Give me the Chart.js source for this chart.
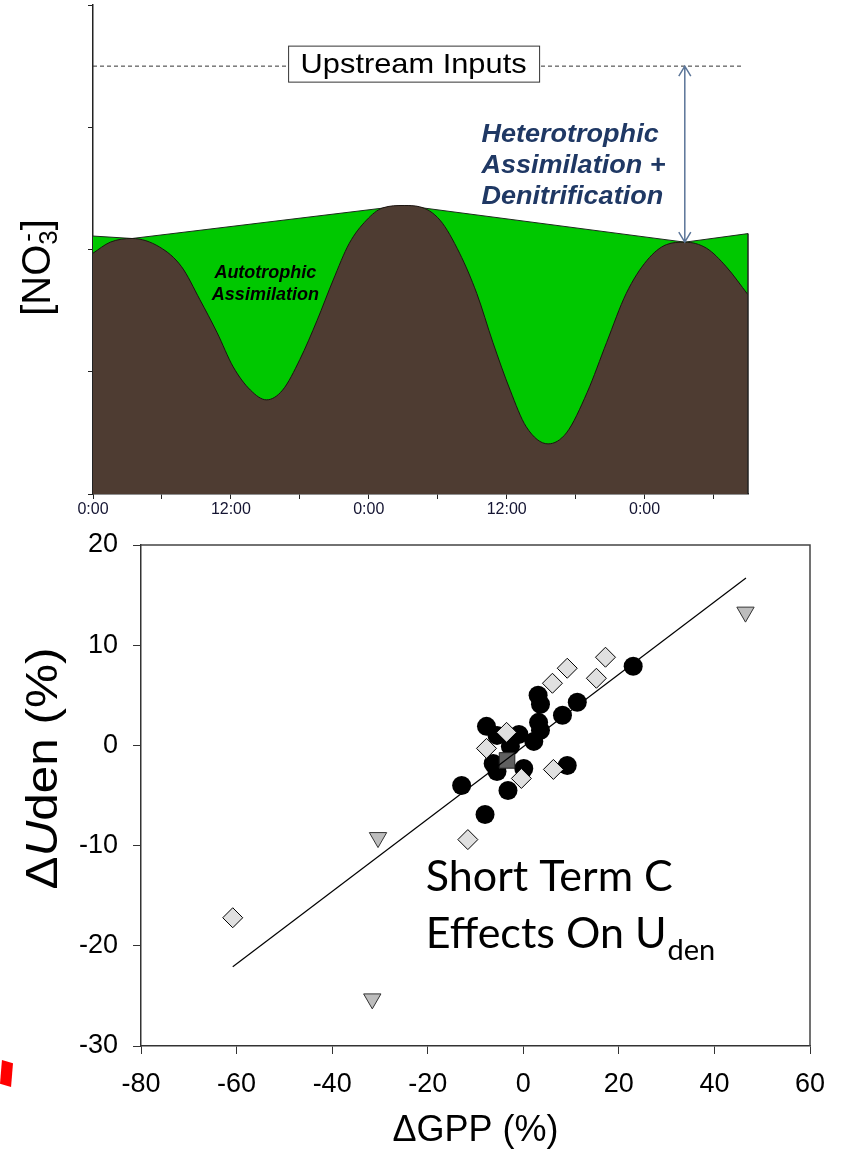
<!DOCTYPE html>
<html lang="en">
<head>
  <meta charset="UTF-8" />
  <title>Diel nitrate signal and Uden vs GPP</title>
  <script src="https://cdn.jsdelivr.net/npm/chart.js"></script>
  <style>
    body { margin:0; background:#fff; width:855px; height:1149px; overflow:hidden; position:relative; }
    #dielChart { position:absolute; left:0; top:0; }
    #gppChart { position:absolute; left:0; top:525px; }
    .redmark { position:absolute; left:0; top:1060px; width:13px; height:27px; background:#f00;
               clip-path:polygon(15% 0, 100% 12%, 85% 100%, 0 88%); }
  </style>
</head>
<body>
  <canvas id="dielChart" width="855" height="525"></canvas>
  <canvas id="gppChart" width="855" height="624"></canvas>
  <div class="redmark"></div>

  <script>
    // ---- top panel: diel [NO3-] signal, hours from the first midnight ----
    const dielHours = [0, 1.5, 3.4, 5.8, 7.7, 9.3, 10.8, 12.2, 13.7, 15.1, 16.5, 18.0, 19.5, 20.9, 22.3, 23.8, 25.2, 27.1,
                       28.4, 30.2, 31.9, 33.4, 34.8, 36.3, 37.7, 39.6, 41.2, 43.0, 44.7, 46.4, 48.2, 49.9, 51.5, 53.4, 55.1, 57];
    const dielNO3 = [1.97, 2.06, 2.09, 2.02, 1.86, 1.59, 1.32, 1.04, 0.85, 0.77, 0.85, 1.10, 1.42, 1.75, 2.05, 2.24, 2.34, 2.36,
                     2.35, 2.24, 1.97, 1.64, 1.24, 0.85, 0.55, 0.41, 0.50, 0.83, 1.24, 1.64, 1.91, 2.04, 2.06, 2.01, 1.86, 1.63];
    // night-time envelope (peak to peak)
    const envelopeHours = [0, 3.4, 27.1, 51.5, 57];
    const envelopeNO3 = [2.11, 2.09, 2.36, 2.06, 2.13];
    const upstreamNO3 = 3.5;
    const upstreamSpan = [0, 56.5];
    const hourTicks = [0, 6, 12, 18, 24, 30, 36, 42, 48, 54];

    // ---- bottom panel: change in Uden vs change in GPP (%) ----
    const circleGPP = [23.0, 3.1, 3.6, 11.3, 8.2, 3.2, 3.6, 2.2, -7.7, -5.5, -0.9, -2.7, -6.3, -5.5, 0.1, -3.2, -12.9, -8.0, 9.2];
    const circleUden = [7.9, 5.0, 4.1, 4.3, 3.0, 2.3, 1.5, 0.4, 1.9, 1.0, 1.1, -0.1, -1.8, -2.6, -2.3, -4.5, -4.0, -6.9, -2.0];
    const diamondGPP = [17.2, 9.2, 6.1, 15.3, -3.5, -7.7, -0.4, 6.3, -11.6, -60.8];
    const diamondUden = [8.8, 7.7, 6.2, 6.7, 1.3, -0.3, -3.3, -2.4, -9.4, -17.2];
    const triangleGPP = [46.5, -30.4, -31.6];
    const triangleUden = [13.3, -9.2, -25.3];
    const squareGPP = [-3.4];
    const squareUden = [-1.5];
    const fitGPP = [-60.8, 46.6];
    const fitUden = [-22.1, 16.7];

    const sans = "'Liberation Sans', Arial, sans-serif";
    Chart.defaults.font.family = sans;
    Chart.defaults.color = '#000';

    const pts = (xs, ys) => xs.map((v, i) => ({ x: v, y: ys[i] }));

    function hourLabel(v) {
      if (v % 24 === 0) return '0:00';
      if (v % 12 === 0) return '12:00';
      return '';
    }

    // labels, arrow and axis title for the diel panel
    const dielNotes = {
      id: 'dielNotes',
      afterDatasetsDraw(chart) {
        const { ctx, scales: { x, y }, chartArea } = chart;
        ctx.save();

        // right edge of the filled areas
        const xEnd = x.getPixelForValue(dielHours[dielHours.length - 1]);
        ctx.strokeStyle = '#222';
        ctx.lineWidth = 1.5;
        ctx.beginPath();
        ctx.moveTo(xEnd, y.getPixelForValue(envelopeNO3[envelopeNO3.length - 1]));
        ctx.lineTo(xEnd, chartArea.bottom);
        ctx.stroke();

        // "Upstream Inputs" box sitting on the dashed line
        const bx = x.getPixelForValue(27.9), by = y.getPixelForValue(upstreamNO3) - 2;
        ctx.fillStyle = '#fff';
        ctx.fillRect(bx - 125, by - 18, 251, 36);
        ctx.strokeStyle = '#333';
        ctx.lineWidth = 1;
        ctx.strokeRect(bx - 125, by - 18, 251, 36);
        ctx.save();
        ctx.translate(bx, by + 9);
        ctx.scale(1.1, 1);
        ctx.fillStyle = '#000';
        ctx.font = '28px ' + sans;
        ctx.textAlign = 'center';
        ctx.fillText('Upstream Inputs', 0, 0);
        ctx.restore();

        // double arrow from upstream level down to the envelope
        const ax = x.getPixelForValue(envelopeHours[3]);
        const ay1 = y.getPixelForValue(upstreamNO3), ay2 = y.getPixelForValue(envelopeNO3[3]);
        ctx.strokeStyle = '#5b7598';
        ctx.lineWidth = 1.5;
        ctx.beginPath();
        ctx.moveTo(ax, ay1); ctx.lineTo(ax, ay2);
        ctx.moveTo(ax - 6, ay1 + 10); ctx.lineTo(ax, ay1); ctx.lineTo(ax + 6, ay1 + 10);
        ctx.moveTo(ax - 6, ay2 - 10); ctx.lineTo(ax, ay2); ctx.lineTo(ax + 6, ay2 - 10);
        ctx.stroke();

        // heterotrophic label
        ctx.save();
        ctx.fillStyle = '#1f3864';
        ctx.font = 'italic bold 26px ' + sans;
        ctx.textAlign = 'left';
        ctx.translate(x.getPixelForValue(33.8), y.getPixelForValue(2.88));
        ctx.scale(1.04, 1);
        ['Heterotrophic', 'Assimilation +', 'Denitrification'].forEach((t, i) => ctx.fillText(t, 0, i * 31));
        ctx.restore();

        // autotrophic label
        ctx.fillStyle = '#000';
        ctx.font = 'italic bold 18px ' + sans;
        ctx.textAlign = 'center';
        const tx = x.getPixelForValue(15), ty = y.getPixelForValue(1.77);
        ctx.fillText('Autotrophic', tx, ty);
        ctx.fillText('Assimilation', tx, ty + 22.5);

        // [NO3-] axis title
        ctx.translate(50, (chartArea.top + chartArea.bottom) / 2 + 18);
        ctx.rotate(-Math.PI / 2);
        ctx.textAlign = 'left';
        const big = '40px ' + sans, small = '26px ' + sans;
        ctx.font = big;
        const wA = ctx.measureText('[NO').width, wB = ctx.measureText(']').width;
        ctx.font = small;
        const w3 = ctx.measureText('3').width;
        const x0 = -(wA + w3 + wB) / 2;
        ctx.font = big; ctx.fillText('[NO', x0, 0);
        ctx.font = small; ctx.fillText('3', x0 + wA, 7); ctx.fillText('-', x0 + wA + 3, -14);
        ctx.font = big; ctx.fillText(']', x0 + wA + w3, 0);
        ctx.restore();
      }
    };

    new Chart(document.getElementById('dielChart'), {
      type: 'line',
      data: {
        datasets: [
          { label: 'NO3', data: pts(dielHours, dielNO3), borderColor: '#1c1410', borderWidth: 1,
            backgroundColor: '#4e3c32', fill: 'origin', cubicInterpolationMode: 'monotone', pointRadius: 0 },
          { label: 'Envelope', data: pts(envelopeHours, envelopeNO3), borderColor: '#1d2b1d', borderWidth: 1,
            backgroundColor: '#00c800', fill: 'origin', tension: 0, pointRadius: 0 },
          { label: 'Upstream', data: pts(upstreamSpan, [upstreamNO3, upstreamNO3]), borderColor: '#333',
            borderWidth: 1, borderDash: [4, 3], pointRadius: 0, fill: false }
        ]
      },
      options: {
        responsive: false,
        animation: false,
        layout: { padding: { top: 5, right: 107, left: 0, bottom: 0 } },
        plugins: { legend: { display: false }, tooltip: { enabled: false } },
        scales: {
          x: {
            type: 'linear', min: 0, max: 57,
            afterBuildTicks: s => { s.ticks = hourTicks.map(v => ({ value: v })); },
            afterFit: s => { s.height = 31; },
            ticks: { callback: hourLabel, autoSkip: false, maxRotation: 0, padding: 1,
                     color: '#141432', font: { size: 16 } },
            grid: { drawOnChartArea: false, tickLength: 5, color: '#222' },
            border: { color: '#222', width: 1.5 }
          },
          y: {
            min: 0, max: 4,
            afterFit: s => { s.width = 93; },
            ticks: { stepSize: 1, display: false },
            grid: { drawOnChartArea: false, tickLength: 5, color: '#222' },
            border: { color: '#222', width: 1.5 }
          }
        }
      },
      plugins: [dielNotes]
    });

    // frame, rotated axis title and the panel caption
    const gppNotes = {
      id: 'gppNotes',
      afterDatasetsDraw(chart) {
        const { ctx, scales: { x, y }, chartArea: a } = chart;
        ctx.save();
        ctx.strokeStyle = '#444';
        ctx.lineWidth = 1.5;
        ctx.beginPath();
        ctx.moveTo(a.left, a.top); ctx.lineTo(a.right, a.top); ctx.lineTo(a.right, a.bottom);
        ctx.stroke();

        // caption
        ctx.fillStyle = '#000';
        ctx.textAlign = 'left';
        const cx = x.getPixelForValue(-20.4), cy = y.getPixelForValue(-14.5);
        ctx.font = "43px Lato, 'Open Sans', sans-serif";
        ctx.fillText('Short Term C', cx, cy);
        ctx.fillText('Effects On U', cx, cy + 57);
        const wU = ctx.measureText('Effects On U').width;
        ctx.font = "29px Lato, 'Open Sans', sans-serif";
        ctx.fillText('den', cx + wU + 1, cy + 69);

        // rotated y title: ΔUden (%)
        ctx.translate(57, (a.top + a.bottom) / 2 - 27);
        ctx.rotate(-Math.PI / 2);
        ctx.scale(1.1, 1);
        const reg = '45px ' + sans, ital = 'italic 45px ' + sans;
        ctx.font = reg; const wD = ctx.measureText('\u0394').width, wR = ctx.measureText('den (%)').width;
        ctx.font = ital; const wI = ctx.measureText('U').width;
        const x0 = -(wD + wI + wR) / 2;
        ctx.font = reg; ctx.fillText('\u0394', x0, 0);
        ctx.font = ital; ctx.fillText('U', x0 + wD, 0);
        ctx.font = reg; ctx.fillText('den (%)', x0 + wD + wI, 0);
        ctx.restore();
      }
    };

    new Chart(document.getElementById('gppChart'), {
      type: 'scatter',
      data: {
        datasets: [
          { type: 'line', label: 'Fit', data: pts(fitGPP, fitUden), borderColor: '#000', borderWidth: 1.2,
            pointRadius: 0, fill: false, tension: 0 },
          { label: 'Square', data: pts(squareGPP, squareUden), pointStyle: 'rect', pointRadius: 11,
            backgroundColor: '#606060', borderColor: '#222', borderWidth: 1 },
          { label: 'Diamond', data: pts(diamondGPP, diamondUden), pointStyle: 'rectRot', pointRadius: 10,
            backgroundColor: '#e0e0e0', borderColor: '#000', borderWidth: 1 },
          { label: 'Triangle', data: pts(triangleGPP, triangleUden), pointStyle: 'triangle', rotation: 180,
            pointRadius: 10, backgroundColor: '#bdbdbd', borderColor: '#333', borderWidth: 1 },
          { label: 'Circle', data: pts(circleGPP, circleUden), pointStyle: 'circle', pointRadius: 9.5,
            backgroundColor: '#000', borderColor: '#000', borderWidth: 0 }
        ]
      },
      options: {
        responsive: false,
        animation: false,
        layout: { padding: { top: 20, right: 45, left: 0, bottom: 0 } },
        plugins: { legend: { display: false }, tooltip: { enabled: false } },
        scales: {
          x: {
            min: -80, max: 60,
            afterFit: s => { s.height = 103; },
            ticks: { stepSize: 20, padding: 14, maxRotation: 0, font: { size: 27 } },
            grid: { drawOnChartArea: false, tickLength: 8, color: '#333' },
            border: { color: '#333', width: 1.5 },
            title: { display: true, text: '\u0394GPP (%)', font: { size: 36, lineHeight: 1 }, padding: { top: 0, bottom: 0 } }
          },
          y: {
            min: -30, max: 20,
            afterFit: s => { s.width = 141; s.paddingTop = 10; s.paddingBottom = 10; },
            ticks: { stepSize: 10, padding: 15, font: { size: 27 } },
            grid: { drawOnChartArea: false, tickLength: 8, color: '#333' },
            border: { color: '#333', width: 1.5 }
          }
        }
      },
      plugins: [gppNotes]
    });
  </script>
</body>
</html>
